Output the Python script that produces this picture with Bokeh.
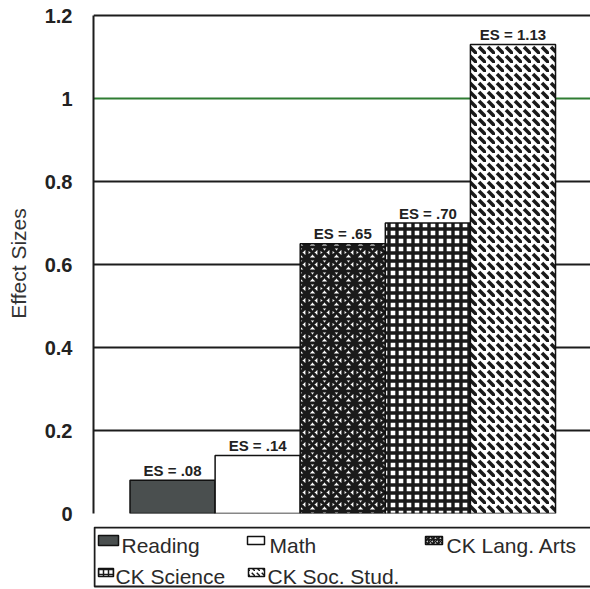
from bokeh.plotting import figure
from bokeh.models import Range1d, FixedTicker, Grid, ColumnDataSource
from bokeh.layouts import column
from bokeh.core.properties import value
from bokeh.embed import file_html
from bokeh.resources import INLINE

# Data
categories = ["Reading", "Math", "CK Lang. Arts", "CK Science", "CK Soc. Stud."]
effect_sizes = [0.08, 0.14, 0.65, 0.70, 1.13]
bar_labels = ["ES = .08", "ES = .14", "ES = .65", "ES = .70", "ES = 1.13"]
y_ticks = [0, 0.2, 0.4, 0.6, 0.8, 1, 1.2]
y_tick_labels = ["0", "0.2", "0.4", "0.6", "0.8", "1", "1.2"]
y_title = "Effect Sizes"

# Styles per bar
fill_colors = ["#4a4f4f", "#ffffff", "#ffffff", "#ffffff", "#ffffff"]
hatch_patterns = [" ", " ", "*", "+", "`"]
hatch_scales = [8, 8, 12, 8, 9]
hatch_weights = [1, 1, 3.2, 3.4, 3.6]

FONT = "Liberation Sans"

src = ColumnDataSource(dict(
    x=list(range(len(categories))),
    top=effect_sizes,
    label=bar_labels,
    fill=fill_colors,
    hatch=hatch_patterns,
    hscale=hatch_scales,
    hweight=hatch_weights,
))

# Chart
p = figure(width=590, height=526, output_backend="svg", toolbar_location=None,
           x_range=Range1d(-0.929, 4.911), y_range=Range1d(0, 1.20482),
           min_border_left=93, min_border_right=0, min_border_top=13,
           min_border_bottom=13)
p.outline_line_color = None
p.background_fill_color = "white"
p.xaxis.visible = False
p.xgrid.visible = False

p.ygrid.ticker = FixedTicker(ticks=[t for t in y_ticks if t != 1])
p.ygrid.grid_line_color = "#1c1c1c"
p.ygrid.grid_line_width = 2
p.add_layout(Grid(dimension=1, ticker=FixedTicker(ticks=[1]),
                  grid_line_color="#2f7d32", grid_line_width=2))

ax = p.yaxis[0]
ax.bounds = (0, 1.2)
ax.ticker = FixedTicker(ticks=y_ticks)
ax.major_label_overrides = dict(zip(y_ticks, y_tick_labels))
ax.major_label_text_font = FONT
ax.major_label_text_font_style = "bold"
ax.major_label_text_font_size = "20px"
ax.major_label_text_color = "#222222"
ax.major_label_standoff = 15
ax.major_tick_line_color = None
ax.minor_tick_line_color = None
ax.axis_line_color = "#1c1c1c"
ax.axis_line_width = 2
ax.axis_label = y_title
ax.axis_label_text_font = FONT
ax.axis_label_text_font_style = "normal"
ax.axis_label_text_font_size = "21px"
ax.axis_label_text_color = "#333333"
ax.axis_label_standoff = 12

p.vbar(x="x", top="top", bottom=0, width=1, source=src,
       fill_color="fill", line_color="#111111", line_width=1.5,
       hatch_pattern="hatch", hatch_color="#1a1a1a",
       hatch_scale="hscale", hatch_weight="hweight")

p.text(x="x", y="top", text="label", source=src,
       text_align="center", text_baseline="alphabetic", y_offset=-10,
       text_font=value(FONT), text_font_style="bold",
       text_font_size="15px", text_color="#222222")

# Legend strip, laid out in pixel coordinates
leg = figure(width=590, height=63, output_backend="svg", toolbar_location=None,
             x_range=Range1d(93, 590), y_range=Range1d(589, 526),
             min_border_left=93, min_border_right=0, min_border_top=0,
             min_border_bottom=0)
leg.axis.visible = False
leg.grid.visible = False
leg.outline_line_color = None

leg.quad(left=94, right=600, top=527, bottom=586, fill_color=None,
         line_color="#1c1c1c", line_width=2)

sw = ColumnDataSource(dict(
    left=[98, 247, 425, 98, 248],
    right=[118, 264, 442, 113, 264],
    top=[535, 536, 536, 568, 568],
    bottom=[545, 544, 544, 576, 576],
    fill=fill_colors,
    hatch=hatch_patterns,
    tx=[121, 269, 446, 115, 267],
    ty=[545, 545, 545, 576, 576],
    name=categories,
))
leg.quad(left="left", right="right", top="top", bottom="bottom", source=sw,
         fill_color="fill", line_color="#111111", line_width=1.5,
         hatch_pattern="hatch", hatch_color="#1a1a1a", hatch_scale=5,
         hatch_weight=1.5)
leg.text(x="tx", y="ty", text="name", source=sw, text_align="left",
         text_baseline="alphabetic", text_font=value(FONT),
         text_font_size="21px", text_color="#2a2a2a")

layout = column(p, leg, spacing=0)
open("out.html", "w").write(file_html(layout, INLINE))
